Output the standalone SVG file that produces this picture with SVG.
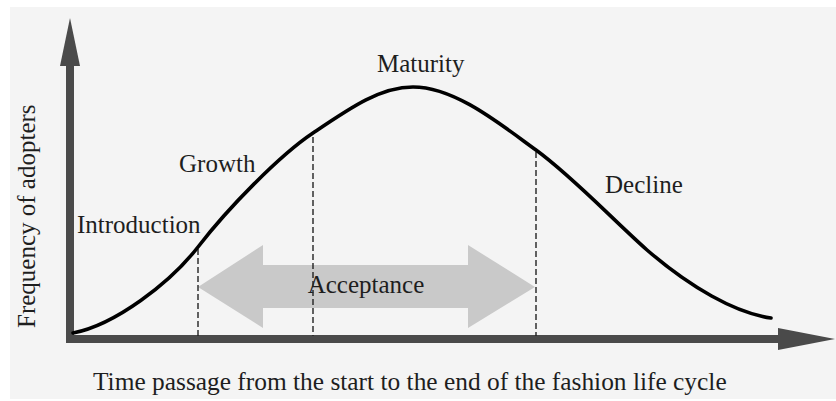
<svg xmlns="http://www.w3.org/2000/svg" width="836" height="401" viewBox="0 0 836 401">
  <style>
    .lbl { font-family: "Liberation Serif", "Times New Roman", serif; font-size: 25px; fill: #1e1e1e; }
    .axis { stroke: #4a4a4a; stroke-width: 8; fill: none; }
    .head { fill: #4a4a4a; }
    .guide { stroke: #222; stroke-width: 1.4; stroke-dasharray: 6 3; fill: none; }
    .curve { stroke: #000; stroke-width: 3.6; fill: none; stroke-linecap: round; }
  </style>
  <rect x="0" y="0" width="836" height="401" fill="#ffffff"/>
  <rect x="10" y="7" width="826" height="392" fill="#f4f4f4"/>

  <!-- axes -->
  <g id="axes">
    <path class="axis" d="M70,343 V62"/>
    <polygon class="head" points="70,18 80,66 60,66"/>
    <path class="axis" d="M66,339 H782"/>
    <polygon class="head" points="835,339 778,328 778,350"/>
  </g>

  <!-- acceptance span -->
  <g id="acceptance">
    <polygon fill="#c9c9c9" points="198,287 263,245 263,265 468,265 468,245 535,287 468,328 468,308 263,308 263,328"/>
    <text class="lbl" x="366" y="293" text-anchor="middle">Acceptance</text>
  </g>

  <!-- stage boundaries -->
  <g id="connectors">
    <path class="guide" d="M198,249 V336"/>
    <path class="guide" d="M313,137 V336"/>
    <path class="guide" d="M536,152 V336"/>
  </g>

  <!-- adoption curve -->
  <g id="curve">
    <path class="curve" d="M73,333 C115,325 170,283 198,247 C228,208 280,155 313,133 C350,108 380,87 413,87 C455,87 500,124 536,150 C573,177 610,217 647,250 C690,287 735,313 771,318"/>
  </g>

  <!-- stage labels -->
  <g id="introduction"><text class="lbl" x="77" y="233">Introduction</text></g>
  <g id="growth"><text class="lbl" x="179" y="172">Growth</text></g>
  <g id="maturity"><text class="lbl" x="377" y="72">Maturity</text></g>
  <g id="decline"><text class="lbl" x="605" y="193">Decline</text></g>

  <!-- axis titles -->
  <g id="y-title"><text class="lbl" transform="translate(35,328) rotate(-90)">Frequency of adopters</text></g>
  <g id="x-title"><text class="lbl" x="93" y="390" style="font-size:25.4px">Time passage from the start to the end of the fashion life cycle</text></g>
</svg>
